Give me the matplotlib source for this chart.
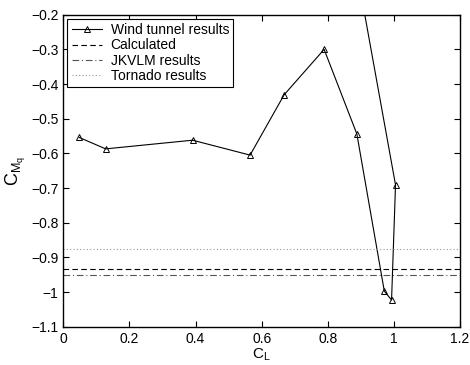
import matplotlib
matplotlib.use("Agg")
import matplotlib.pyplot as plt

plt.rcParams['font.family'] = ['Liberation Sans', 'DejaVu Sans']
plt.rcParams['mathtext.fontset'] = 'custom'
plt.rcParams['mathtext.rm'] = 'Liberation Sans'
plt.rcParams['mathtext.it'] = 'Liberation Sans'

# Wind tunnel data (last point lies outside the visible range)
cl_wt = [0.048, 0.128, 0.391, 0.565, 0.668, 0.789, 0.888, 0.971, 0.993, 1.005, 0.85]
cm_wt = [-0.554, -0.587, -0.562, -0.605, -0.431, -0.300, -0.544, -0.997, -1.023, -0.691, 0.127]

calculated = -0.934
jkvlm = -0.951
tornado = -0.877

xticks = [0, 0.2, 0.4, 0.6, 0.8, 1, 1.2]
yticks = [-1.1, -1, -0.9, -0.8, -0.7, -0.6, -0.5, -0.4, -0.3, -0.2]

fig = plt.figure(figsize=(4.7, 3.65), dpi=100)
ax = fig.add_axes([0.1347, 0.1049, 0.844, 0.8548])

ax.plot(cl_wt, cm_wt, '-', color='black', lw=0.8, marker='^', mfc='none',
        mec='black', ms=5, mew=0.7, label='Wind tunnel results')
ax.axhline(calculated, color='black', ls=(0, (5, 3)), lw=0.8, label='Calculated')
ax.axhline(jkvlm, color='#555555', ls=(0, (6, 2.5, 1, 2.5)), lw=0.8, label='JKVLM results')
ax.axhline(tornado, color='#999999', ls=(0, (1, 2)), lw=0.8, label='Tornado results')

ax.set_xlim(0, 1.2)
ax.set_ylim(-1.1, -0.2)
ax.set_xticks(xticks)
ax.set_xticklabels(['0', '0.2', '0.4', '0.6', '0.8', '1', '1.2'])
ax.set_yticks(yticks)
ax.set_yticklabels(['\u22121.1', '\u22121', '\u22120.9', '\u22120.8', '\u22120.7',
                    '\u22120.6', '\u22120.5', '\u22120.4', '\u22120.3', '\u22120.2'])
ax.tick_params(direction='in', top=True, right=True, labelsize=10, length=4, width=0.8)
for s in ax.spines.values():
    s.set_linewidth(1.0)

ax.set_xlabel('C$_\\mathrm{L}$', fontsize=11, labelpad=1)
ax.set_ylabel('C$_{\\mathrm{M}_\\mathrm{q}}$', fontsize=13, labelpad=2)

leg = ax.legend(loc='upper left', fontsize=10, frameon=True, fancybox=False,
                edgecolor='black', framealpha=1, borderpad=0.3, labelspacing=0.1,
                handlelength=2.2, handletextpad=0.6, borderaxespad=0.3)
leg.get_frame().set_linewidth(0.8)

fig.savefig('out.png', dpi=100)
